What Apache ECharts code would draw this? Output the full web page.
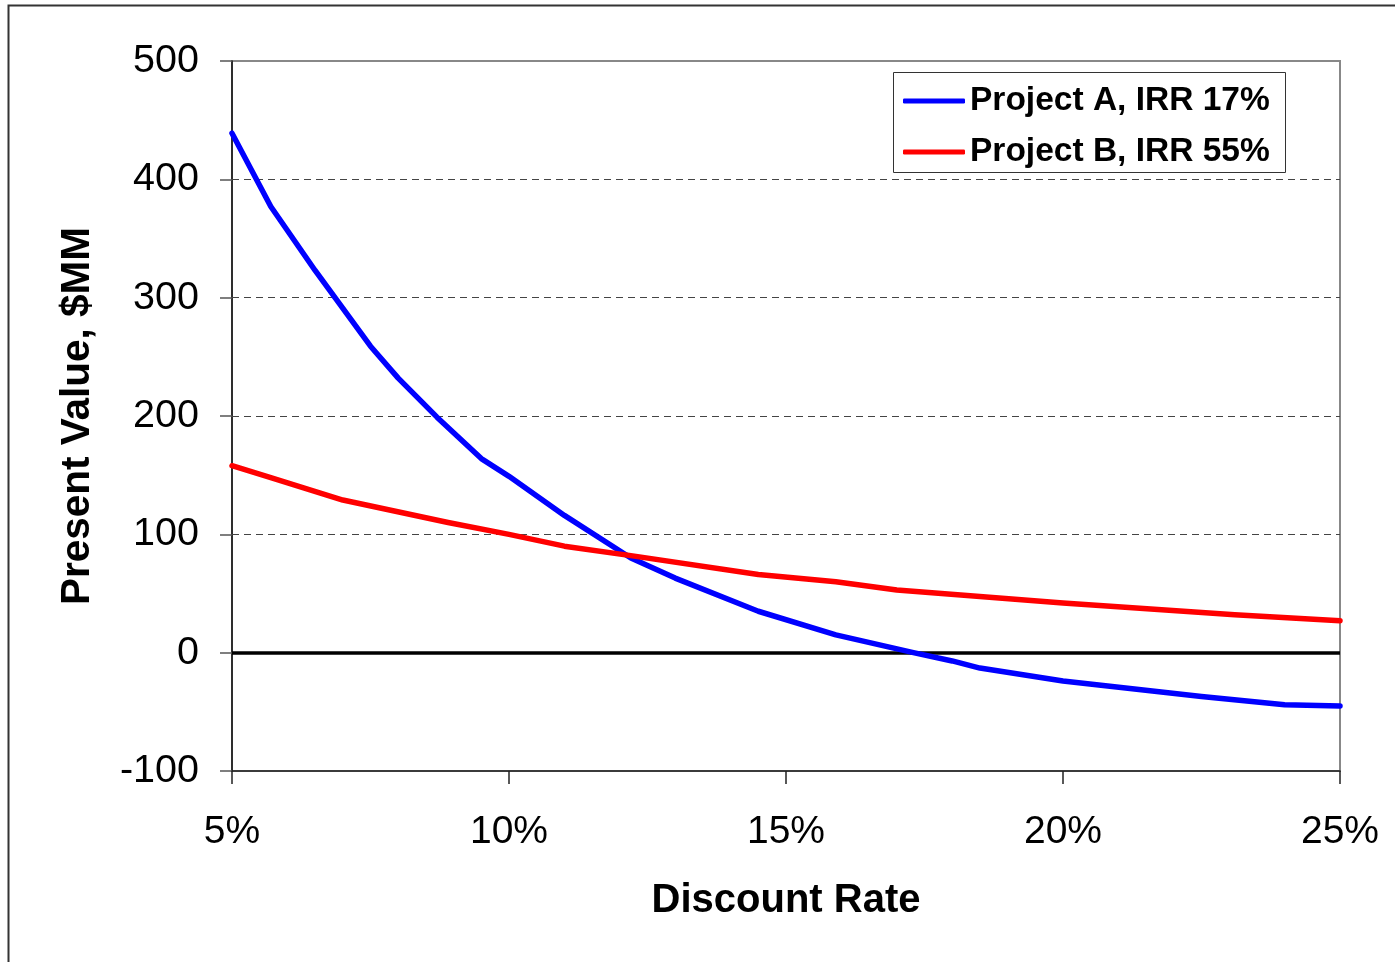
<!DOCTYPE html>
<html>
<head>
<meta charset="utf-8">
<title>Present Value vs Discount Rate</title>
<script src="https://cdn.jsdelivr.net/npm/echarts@6/dist/echarts.min.js"></script>
<style>
  html, body { margin: 0; padding: 0; background: #fff; }
  #chart { width: 1395px; height: 962px; }
</style>
</head>
<body>
<div id="chart"></div>
<script>
// Discount rates (%) and present values ($MM) for each project
const rateA = [5.0, 5.7, 6.5, 7.5, 8.0, 8.7, 9.5, 10.0, 11.0, 12.2, 13.0, 14.5, 15.9, 17.3, 18.0, 18.5, 20.0, 22.5, 24.0, 25.0];
const pvA   = [439, 377, 323, 259, 232, 199, 164, 149, 116, 80, 63, 35, 15, 0, -7, -13, -24, -37, -44, -45];

const rateB = [5.0, 5.7, 7.0, 8.9, 10.0, 11.0, 12.2, 14.5, 15.9, 17.0, 20.0, 23.1, 25.0];
const pvB   = [158, 148, 129, 110, 100, 90, 82, 66, 60, 53, 42, 32, 27];

const seriesNames = ['Project A, IRR 17%', 'Project B, IRR 55%'];
const gridValues = [100, 200, 300, 400];

const FONT = "'Liberation Sans', Arial, Helvetica, sans-serif";

const pairs = (xs, ys) => xs.map((x, i) => [x, ys[i]]);

const chart = echarts.init(document.getElementById('chart'), null, { renderer: 'canvas' });

// dashed horizontal guides plus the solid zero line
const markData = gridValues.map(v => ({
  yAxis: v,
  lineStyle: { color: '#444', width: 1, type: [7, 5] }
}));
markData.push({ yAxis: 0, lineStyle: { color: '#000', width: 3.5, type: 'solid' } });

chart.setOption({
  backgroundColor: '#fff',
  animation: false,
  textStyle: { fontFamily: FONT },
  grid: {
    left: 232, top: 61, right: 55, bottom: 191,
    show: true, borderColor: '#888', borderWidth: 2, backgroundColor: 'transparent'
  },
  graphic: [
    {
      type: 'rect', z: 0, silent: true,
      shape: { x: 8.5, y: 5.5, width: 1420, height: 1000 },
      style: { fill: 'none', stroke: '#333', lineWidth: 2 }
    },
    {
      type: 'rect', z: 3, silent: true,
      shape: { x: 893.5, y: 72.5, width: 392, height: 100 },
      style: { fill: '#fff', stroke: '#333', lineWidth: 1 }
    }
  ],
  legend: {
    z: 6,
    orient: 'vertical',
    left: 903, top: 83,
    padding: 0,
    itemGap: 15,
    itemWidth: 62, itemHeight: 5,
    itemTextGap: 7,
    icon: 'roundRect',
    textStyle: { fontFamily: FONT, fontSize: 33.5, fontWeight: 'bold', color: '#000', lineHeight: 36 },
    data: seriesNames
  },
  xAxis: {
    type: 'value',
    min: 5, max: 25, interval: 5,
    name: 'Discount Rate',
    nameLocation: 'middle',
    nameGap: 110,
    nameTextStyle: { fontFamily: FONT, fontSize: 40, fontWeight: 'bold', color: '#000' },
    axisLine: { show: true, onZero: false, lineStyle: { color: '#222', width: 1.5 } },
    axisTick: { show: true, length: 13, lineStyle: { color: '#222', width: 1.5 } },
    axisLabel: { margin: 42, fontFamily: FONT, fontSize: 39, color: '#000', formatter: '{value}%' },
    splitLine: { show: false }
  },
  yAxis: {
    type: 'value',
    min: -100, max: 500, interval: 100,
    name: 'Present Value, $MM',
    nameLocation: 'middle',
    nameRotate: 90,
    nameGap: 134,
    nameTextStyle: { fontFamily: FONT, fontSize: 40.5, fontWeight: 'bold', color: '#000' },
    axisLine: { show: true, onZero: false, lineStyle: { color: '#111', width: 1.5 } },
    axisTick: { show: true, length: 12, lineStyle: { color: '#555', width: 1.5 } },
    axisLabel: { margin: 33, fontFamily: FONT, fontSize: 39.5, color: '#000' },
    splitLine: { show: false }
  },
  series: [
    {
      name: seriesNames[0],
      type: 'line',
      data: pairs(rateA, pvA),
      symbol: 'none',
      z: 4,
      lineStyle: { color: '#0000ff', width: 5.5, cap: 'round', join: 'round' },
      itemStyle: { color: '#0000ff' },
      markLine: {
        z: 1,
        silent: true,
        symbol: 'none',
        label: { show: false },
        emphasis: { disabled: true },
        data: markData
      }
    },
    {
      name: seriesNames[1],
      type: 'line',
      data: pairs(rateB, pvB),
      symbol: 'none',
      z: 4,
      lineStyle: { color: '#ff0000', width: 5.5, cap: 'round', join: 'round' },
      itemStyle: { color: '#ff0000' }
    }
  ]
});
</script>
</body>
</html>
